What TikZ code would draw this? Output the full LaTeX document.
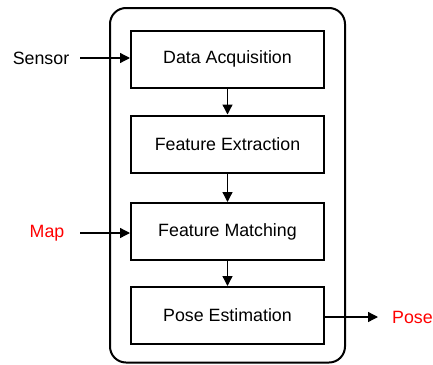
\documentclass[tikz,border=0pt]{standalone}
\usepackage{fontspec}
\setmainfont{Liberation Sans}
\usetikzlibrary{arrows.meta}
\begin{document}
\begin{tikzpicture}[x=1pt,y=-1pt,
  stage/.style={draw, line width=2pt, minimum width=193pt, minimum height=57pt, inner sep=0pt, font=\fontsize{17.8}{20}\selectfont},
  lbl/.style={inner sep=0pt, font=\fontsize{17.8}{20}\selectfont},
  flow/.style={line width=1.3pt, -{Triangle[length=10pt,width=10pt]}},
  frame/.style={draw, line width=2pt, rounded corners=16pt}]
\useasboundingbox (0,0) rectangle (433,364);
% enclosing system frame
\draw[frame] (110,8) rectangle (345,362.5);
% processing stages
\node[stage] (acq) at (227.5,59) {Data Acquisition};
\node[stage] (ext) at (227.5,144) {Feature Extraction};
\node[stage] (mat) at (227.5,231.5) {Feature Matching};
\node[stage] (est) at (227.5,315.5) {Pose Estimation};
% inputs and output
\node[lbl] (sensor) at (41,58) {Sensor};
\node[lbl, text=red] (map) at (47,233) {Map};
\node[lbl, text=red, anchor=west] (pose) at (392,317) {Pose};
\coordinate (sensorout) at (80,58);
\coordinate (mapout) at (80,233);
\coordinate (posein) at (378,317);
% connectors
\draw[flow] (sensorout) -- (sensorout -| acq.west);
\draw[flow] (mapout) -- (mapout -| mat.west);
\draw[flow] (est.east |- posein) -- (posein);
\draw[flow] (acq.south) -- (ext.north);
\draw[flow] (ext.south) -- (mat.north);
\draw[flow] (mat.south) -- (est.north);
\end{tikzpicture}
\end{document}
